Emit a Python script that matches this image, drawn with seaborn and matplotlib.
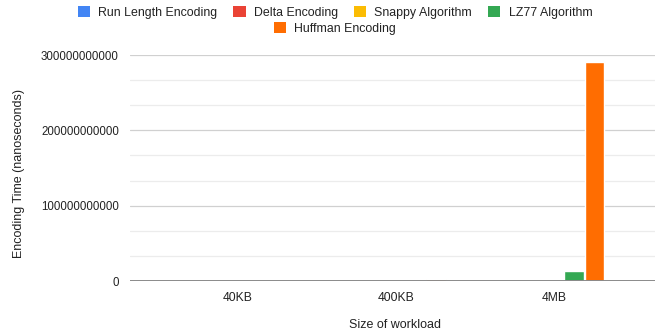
import matplotlib
matplotlib.use("Agg")
import matplotlib.pyplot as plt
from matplotlib.patches import Patch
from matplotlib.ticker import MultipleLocator, FuncFormatter
import seaborn as sns
import pandas as pd

workloads = ["40KB", "400KB", "4MB"]
algorithms = ["Run Length Encoding", "Delta Encoding", "Snappy Algorithm",
              "LZ77 Algorithm", "Huffman Encoding"]
run_length = [2.0e5, 1.5e6, 1.6e7]
delta = [1.5e5, 1.2e6, 1.2e7]
snappy = [3.0e5, 2.5e6, 2.6e7]
lz77 = [1.2e7, 9.0e8, 1.3e10]
huffman = [3.0e7, 2.8e9, 2.91e11]
colors = ["#4285F4", "#EA4335", "#FBBC04", "#34A853", "#FF6D01"]

series = [run_length, delta, snappy, lz77, huffman]
df = pd.DataFrame(
    [(w, a, vals[i]) for a, vals in zip(algorithms, series) for i, w in enumerate(workloads)],
    columns=["workload", "algorithm", "time"],
)

sns.set_style("white")
plt.rcParams["font.family"] = ["Liberation Sans", "DejaVu Sans"]

fig = plt.figure(figsize=(6.55, 3.35), dpi=100)
ax = fig.add_axes([130 / 655, 1 - 281 / 335, 525 / 655, 226 / 335])

sns.barplot(data=df, x="workload", y="time", hue="algorithm",
            hue_order=algorithms, palette=colors, width=0.64, gap=0.04,
            saturation=1, ax=ax, legend=False, zorder=3)

ax.set_ylim(0, 3e11)
ax.set_xlim(-0.68, 2.64)
ax.yaxis.set_major_locator(MultipleLocator(1e11))
ax.yaxis.set_minor_locator(MultipleLocator(1e11 / 3))
ax.yaxis.set_major_formatter(FuncFormatter(lambda v, p: f"{int(round(v))}"))
ax.grid(True, which="major", axis="y", color="#d0d0d0", linewidth=0.9, zorder=0)
ax.grid(True, which="minor", axis="y", color="#ececec", linewidth=0.9, zorder=0)
ax.grid(False, axis="x")
ax.axhline(0, color="#8a8a8a", linewidth=1.4, zorder=4)
for s in ax.spines.values():
    s.set_visible(False)
ax.tick_params(axis="both", which="both", length=0, labelsize=8.3, colors="#222222")
ax.tick_params(axis="x", labelsize=8.7, pad=8)
ax.tick_params(axis="y", pad=8)

ax.set_xlabel("Size of workload", fontsize=9, color="#222222", va="center")
ax.set_ylabel("Encoding Time (nanoseconds)", fontsize=9, color="#222222", va="center")
ax.xaxis.set_label_coords((395 - 130) / 525, (281 - 325) / 226)
ax.yaxis.set_label_coords((19 - 130) / 525, (281 - 174) / 226)

handles = [Patch(facecolor=c, edgecolor="none") for c in colors]
leg_kw = dict(frameon=False, fontsize=8.9, handlelength=1.0, handleheight=1.0,
              handletextpad=0.65, columnspacing=1.3, labelcolor="#222222")
fig.legend(handles[:4], algorithms[:4], loc="center", ncol=4,
           bbox_to_anchor=(335 / 655, 1 - 12.5 / 335), **leg_kw)
fig.legend(handles[4:], algorithms[4:], loc="center", ncol=1,
           bbox_to_anchor=(335 / 655, 1 - 28.5 / 335), **leg_kw)

fig.savefig("out.png", dpi=100)
